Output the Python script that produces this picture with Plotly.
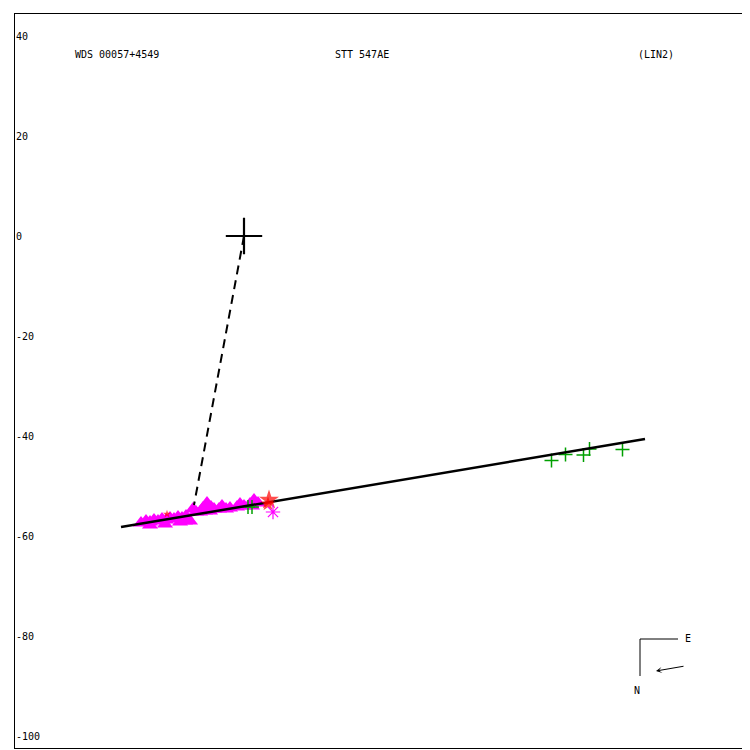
import plotly.graph_objects as go

# Measured positions (relative to primary at 0,0)
tri_x = [-20.6, -19.6, -18.8, -18.0, -17.2, -16.4, -15.6, -14.8, -14.0, -13.2, -12.4, -11.6,
         -18.8, -15.8, -12.8, -11.8, -10.8,
         -10.2, -9.6,
         -8.8, -8.2, -7.4, -6.6, -7.8, -6.8, -6.0,
         -5.0, -4.4, -3.6, -2.8,
         -1.4, -0.8, 0.0,
         1.2, 2.0, 2.8, 1.6]
tri_y = [-57.4, -57.0, -57.2, -56.8, -57.0, -56.6, -56.8, -56.4, -56.6, -56.2, -56.4, -56.0,
         -57.8, -57.6, -57.2, -57.0, -57.0,
         -54.6, -55.2,
         -55.2, -54.4, -53.4, -54.2, -55.0, -55.0, -54.6,
         -54.6, -54.0, -54.6, -54.4,
         -54.2, -53.6, -54.0,
         -53.6, -52.8, -53.4, -54.0]

green_x = [0.8, 1.6, 61.5, 64.3, 67.9, 69.1, 75.7]
green_y = [-54.2, -54.2, -44.9, -43.7, -43.8, -42.6, -42.7]

red_x = [5.0, 4.8, -15.4]
red_y = [-52.8, -53.6, -55.6]
red_size = [15, 11, 6]

ast_x = [5.8]
ast_y = [-55.2]

orbit_x = [-24.6, 80.2]
orbit_y = [-58.2, -40.6]

dash_x = [0.0, -10.0]
dash_y = [0.0, -53.8]

primary_x = [0.0]
primary_y = [0.0]

ytick_vals = [-100, -80, -60, -40, -20, 0, 20, 40]

fig = go.Figure()
fig.add_trace(go.Scatter(x=tri_x, y=tri_y, mode="markers",
                         marker=dict(symbol="triangle-up", size=14, color="#ff00ff", line=dict(width=0))))
fig.add_trace(go.Scatter(x=green_x, y=green_y, mode="markers",
                         marker=dict(symbol="cross-thin-open", size=10, color="#00a000",
                                     line=dict(color="#00a000", width=1.5))))
fig.add_trace(go.Scatter(x=dash_x, y=dash_y, mode="lines",
                         line=dict(color="black", width=2, dash="9px,6px")))
fig.add_trace(go.Scatter(x=orbit_x, y=orbit_y, mode="lines",
                         line=dict(color="black", width=2.5)))
fig.add_trace(go.Scatter(x=red_x, y=red_y, mode="markers",
                         marker=dict(symbol="star", size=red_size, color="red", line=dict(width=0))))
fig.add_trace(go.Scatter(x=ast_x, y=ast_y, mode="markers",
                         marker=dict(symbol="asterisk-open", size=12, color="#ff00ff",
                                     line=dict(color="#ff00ff", width=1.2))))
fig.add_trace(go.Scatter(x=primary_x, y=primary_y, mode="markers",
                         marker=dict(symbol="cross-thin-open", size=26, color="black",
                                     line=dict(color="black", width=2.2))))

font = dict(family="DejaVu Sans Mono", size=10, color="black")

# Compass
fig.add_shape(type="line", x0=79.2, y0=-80.6, x1=86.8, y1=-80.6, line=dict(color="black", width=1))
fig.add_shape(type="line", x0=79.2, y0=-80.6, x1=79.2, y1=-88.0, line=dict(color="black", width=1))
fig.add_annotation(x=87.8, y=-80.4, text="E", showarrow=False, font=font, xanchor="left")
fig.add_annotation(x=78.6, y=-90.8, text="N", showarrow=False, font=font, xanchor="center")
fig.add_annotation(x=82.4, y=-87.0, ax=88.2, ay=-86.0, axref="x", ayref="y", xref="x", yref="y",
                   text="", showarrow=True, arrowhead=3, arrowsize=1, arrowwidth=1, arrowcolor="black")

# Titles
py_title = 1 - (54 - 14) / 734
fig.add_annotation(xref="paper", yref="paper", x=(73 - 15) / 735, y=py_title,
                   text="WDS 00057+4549", showarrow=False, font=font, xanchor="left", yanchor="middle")
fig.add_annotation(xref="paper", yref="paper", x=(333 - 15) / 735, y=py_title,
                   text="STT 547AE", showarrow=False, font=font, xanchor="left", yanchor="middle")
fig.add_annotation(xref="paper", yref="paper", x=(636 - 15) / 735, y=py_title,
                   text="(LIN2)", showarrow=False, font=font, xanchor="left", yanchor="middle")

fig.update_layout(
    width=742, height=742,
    margin=dict(l=7, r=0, t=6, b=2),
    paper_bgcolor="white", plot_bgcolor="white",
    showlegend=False,
    xaxis=dict(range=[-45.8, 101.2], showgrid=False, zeroline=False, showticklabels=False,
               ticks="", showline=True, linecolor="black", linewidth=1, mirror=True),
    yaxis=dict(range=[-102.4, 44.4], showgrid=False, zeroline=False,
               tickvals=ytick_vals, ticktext=[str(v) for v in ytick_vals],
               ticklabelposition="inside", ticks="", tickfont=font,
               showline=True, linecolor="black", linewidth=1, mirror=False),
)

fig.write_html("out.html")
